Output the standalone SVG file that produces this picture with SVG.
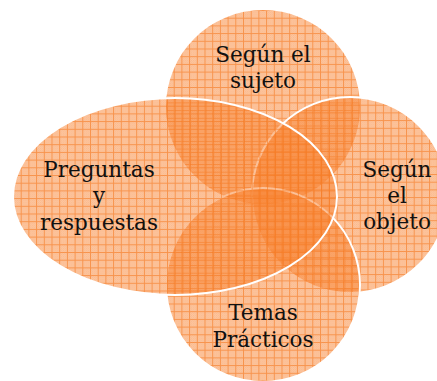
<svg xmlns="http://www.w3.org/2000/svg" xmlns:xlink="http://www.w3.org/1999/xlink" width="437" height="381" viewBox="0 0 437 381">
<style>
.shape{stroke:#FFFFFF;stroke-width:2}
.nost{stroke:none}
.lbl{font-family:"DejaVu Serif","Liberation Serif",serif;font-size:21.5px;fill:#111111;text-anchor:middle}
</style>
<defs>
<pattern id="chk" width="2" height="2" patternUnits="userSpaceOnUse">
<rect x="0" y="0" width="1" height="1" fill="#F27A25" fill-opacity="0.2"/>
<rect x="1" y="1" width="1" height="1" fill="#F27A25" fill-opacity="0.2"/>
</pattern>
<g id="cell">
<rect x="0" y="0" width="7.7" height="7.7" fill="#FA8A3A" fill-opacity="0.46"/>
<rect x="0" y="0" width="7.7" height="7.7" fill="url(#chk)"/>
<rect x="0" y="0" width="1" height="7.7" fill="#F5761C" fill-opacity="0.6"/>
<rect x="1" y="0" width="6.7" height="1" fill="#F5761C" fill-opacity="0.6"/>
</g>
<pattern id="pTop" x="166" y="10" width="7.7" height="7.7" patternUnits="userSpaceOnUse"><use xlink:href="#cell"/></pattern>
<pattern id="pRight" x="252" y="97" width="7.7" height="7.7" patternUnits="userSpaceOnUse"><use xlink:href="#cell"/></pattern>
<pattern id="pBottom" x="166" y="188" width="7.7" height="7.7" patternUnits="userSpaceOnUse"><use xlink:href="#cell"/></pattern>
<pattern id="pLeft" x="13" y="98" width="7.7" height="7.7" patternUnits="userSpaceOnUse"><use xlink:href="#cell"/></pattern>
</defs>
<g id="connectors"></g>
<g id="node-sujeto">
<circle class="nost" cx="263" cy="107" r="97" fill="url(#pTop)"/>
</g>
<g id="node-objeto">
<circle class="shape" cx="350" cy="195" r="98" fill="url(#pRight)"/>
</g>
<g id="node-temas">
<circle class="shape" cx="263" cy="285" r="97" fill="url(#pBottom)"/>
</g>
<g id="node-preguntas">
<ellipse class="shape" cx="175" cy="196.5" rx="162" ry="98.5" fill="url(#pLeft)"/>
</g>
<g id="labels">
<text class="lbl" x="263" y="62">Según el</text>
<text class="lbl" x="263" y="88">sujeto</text>
<text class="lbl" x="99" y="177">Preguntas</text>
<text class="lbl" x="99" y="203">y</text>
<text class="lbl" x="99" y="230">respuestas</text>
<text class="lbl" x="397" y="177">Según</text>
<text class="lbl" x="397" y="203">el</text>
<text class="lbl" x="397" y="229">objeto</text>
<text class="lbl" x="263" y="320">Temas</text>
<text class="lbl" x="263" y="347">Prácticos</text>
</g>
</svg>
